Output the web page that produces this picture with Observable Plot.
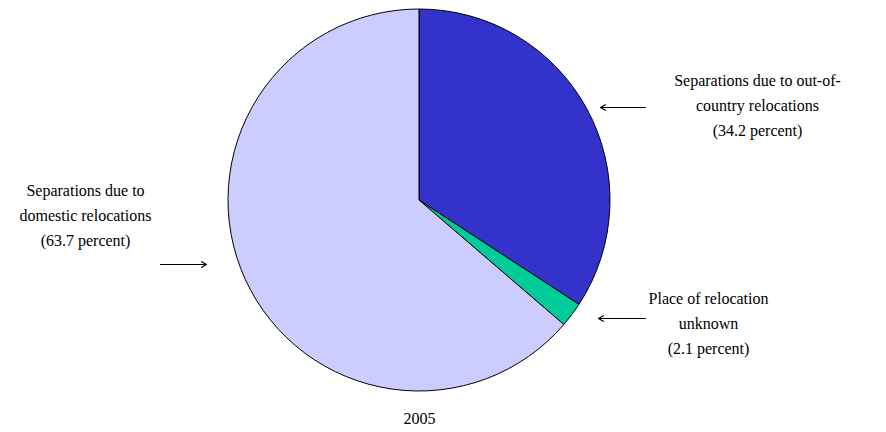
<!DOCTYPE html>
<html><head><meta charset="utf-8">
<script src="https://cdn.jsdelivr.net/npm/d3@7"></script>
<script src="https://cdn.jsdelivr.net/npm/@observablehq/plot@0.6"></script>
<style>body{margin:0;background:#fff}</style>
</head><body><div id="chart"></div>
<script>
// slices, clockwise from 12 o'clock
const categories = ["Out-of-country", "Unknown", "Domestic"];
const shares = [34.2, 2.1, 63.7];
const colors = ["#3333cc", "#00cc99", "#ccccff"];

const labels = [
  {x: 757, y: 80, t: "Separations due to out-of-"},
  {x: 757, y: 105, t: "country relocations"},
  {x: 757, y: 130, t: "(34.2 percent)"},
  {x: 708, y: 298, t: "Place of relocation"},
  {x: 708, y: 323, t: "unknown"},
  {x: 708, y: 348, t: "(2.1 percent)"},
  {x: 85, y: 190, t: "Separations due to"},
  {x: 85, y: 215, t: "domestic relocations"},
  {x: 85, y: 240, t: "(63.7 percent)"},
  {x: 419, y: 418, t: "2005"}
];
const arrows = [
  {x1: 645, y1: 107, x2: 600, y2: 107},
  {x1: 645, y1: 318, x2: 598, y2: 318},
  {x1: 160, y1: 264, x2: 206, y2: 264}
];

const cx = 419, cy = 200, r = 191;
const pie = d3.pie().sort(null).value(d => d.v)(categories.map((c, i) => ({c, v: shares[i], col: colors[i]})));

const pieMark = (index, scales) => {
  const g = d3.create("svg:g").attr("transform", `translate(${scales.x(cx)},${scales.y(cy)})`);
  const arc = d3.arc().innerRadius(0).outerRadius(r);
  g.selectAll("path").data(pie).join("path")
    .attr("d", arc).attr("fill", d => d.data.col)
    .attr("stroke", "#000").attr("stroke-width", 1);
  return g.node();
};

const chart = Plot.plot({
  width: 886, height: 432,
  margin: 0,
  x: {domain: [0, 886], range: [0, 886], axis: null},
  y: {domain: [0, 432], range: [0, 432], axis: null},
  style: {fontSize: "16px", color: "black"},
  marks: [
    pieMark,
    Plot.text(labels, {x: "x", y: "y", text: "t", fill: "black", fontSize: 16, fontFamily: "Liberation Serif"}),
    Plot.arrow(arrows, {x1: "x1", y1: "y1", x2: "x2", y2: "y2", stroke: "black", strokeWidth: 1.2, headLength: 7})
  ]
});
document.getElementById("chart").append(chart);
</script></body></html>
